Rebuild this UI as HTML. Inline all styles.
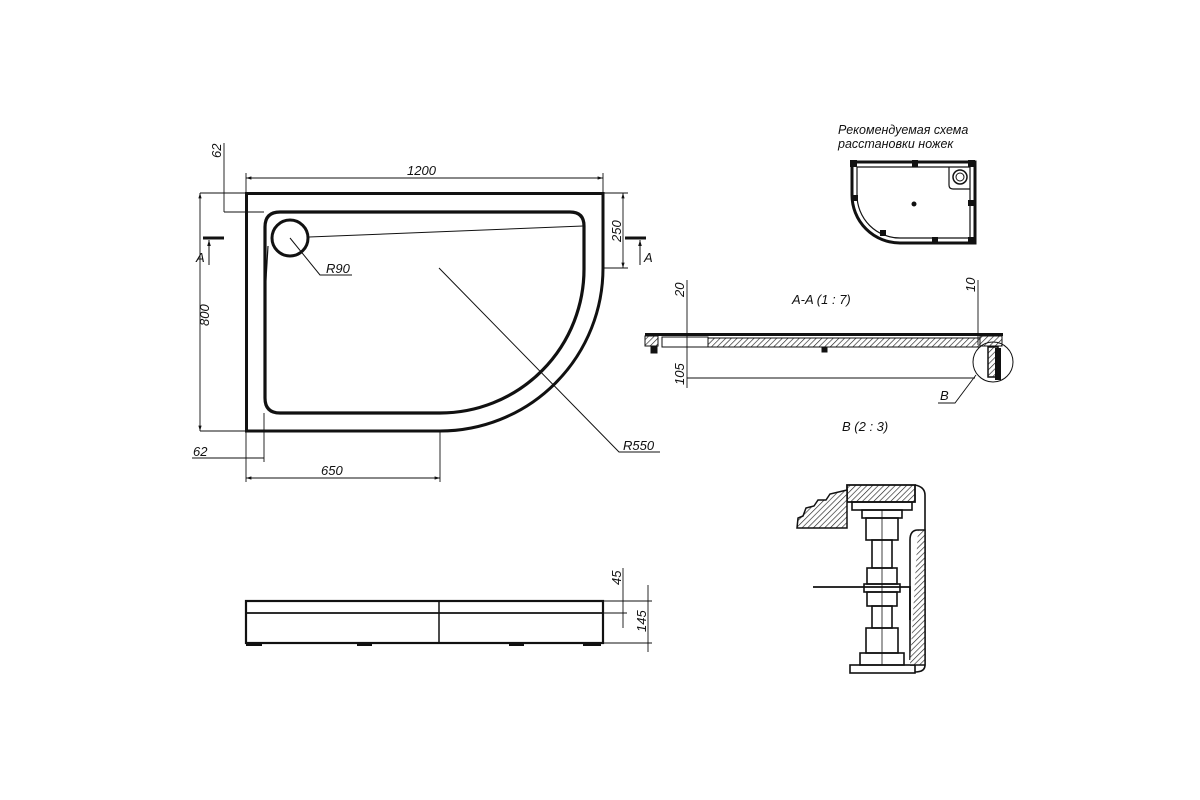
<!DOCTYPE html>
<html><head><meta charset="utf-8"><style>
html,body{margin:0;padding:0;background:#fff;}
svg{display:block;}
text{font-family:"Liberation Sans",sans-serif;font-style:italic;fill:#111;}
</style></head><body>
<svg width="1200" height="800" viewBox="0 0 1200 800" xmlns="http://www.w3.org/2000/svg">
<defs>
<pattern id="h" width="4" height="4" patternUnits="userSpaceOnUse" patternTransform="rotate(45)">
<rect width="4" height="4" fill="#fff"/><line x1="0" y1="0" x2="0" y2="4" stroke="#222" stroke-width="1.3"/></pattern>
<marker id="ar" viewBox="0 0 10 10" refX="10" refY="5" markerWidth="6" markerHeight="6" orient="auto-start-reverse"><path d="M0,2 L10,5 L0,8 z" fill="#111"/></marker>
</defs>
<g fill="none" stroke="#111">
<path d="M246.5,193.5 H603 V268 A163,163 0 0 1 440,431 H246.5 Z" stroke-width="3"/>
<path d="M280,212 H570 Q584,212 584,226 V268 A144,144 0 0 1 440,413 H280 Q265,413 265,398 V227 Q265,212 280,212 Z" stroke-width="3.2"/>
<circle cx="290" cy="238" r="18" stroke-width="3"/>
<line x1="309" y1="237" x2="583" y2="226" stroke-width="1"/>
<line x1="268" y1="246" x2="265" y2="296" stroke-width="1.2"/>
<polyline points="290,238 320,275 352,275" stroke-width="1"/>
<polyline points="439,268 619,452 660,452" stroke-width="1"/>
<g stroke-width="0.9">
<line x1="246" y1="178" x2="603" y2="178" marker-start="url(#ar)" marker-end="url(#ar)"/>
<line x1="246" y1="173" x2="246" y2="193"/><line x1="603" y1="173" x2="603" y2="193"/>
<line x1="224" y1="143" x2="224" y2="212"/>
<line x1="224" y1="212" x2="264" y2="212"/>
<line x1="200" y1="193" x2="246" y2="193"/>
<line x1="200" y1="193" x2="200" y2="431" marker-start="url(#ar)" marker-end="url(#ar)"/>
<line x1="200" y1="431" x2="246" y2="431"/>
<line x1="623" y1="193" x2="623" y2="268" marker-start="url(#ar)" marker-end="url(#ar)"/>
<line x1="603" y1="193" x2="628" y2="193"/><line x1="603" y1="268" x2="628" y2="268"/>
<line x1="192" y1="458" x2="264" y2="458"/>
<line x1="246" y1="431" x2="246" y2="482"/><line x1="264" y1="413" x2="264" y2="462"/>
<line x1="246" y1="478" x2="440" y2="478" marker-start="url(#ar)" marker-end="url(#ar)"/>
<line x1="440" y1="431" x2="440" y2="482"/>
</g>
<line x1="203" y1="238" x2="224" y2="238" stroke-width="3"/>
<line x1="209" y1="265" x2="209" y2="240" stroke-width="1" marker-end="url(#ar)"/>
<line x1="625" y1="238" x2="646" y2="238" stroke-width="3"/>
<line x1="640" y1="265" x2="640" y2="240" stroke-width="1" marker-end="url(#ar)"/>

<rect x="246" y="601" width="357" height="42" stroke-width="2.2"/>
<line x1="246" y1="613" x2="603" y2="613" stroke-width="1.8"/>
<line x1="439" y1="601" x2="439" y2="643" stroke-width="1.5"/>
<g stroke-width="0.9">
<line x1="603" y1="601" x2="652" y2="601"/><line x1="603" y1="613" x2="627" y2="613"/><line x1="603" y1="643" x2="652" y2="643"/>
<line x1="623" y1="568" x2="623" y2="628"/>
<line x1="648" y1="585" x2="648" y2="652"/>
</g>

<rect x="645" y="333" width="358" height="3" fill="#111" stroke="none"/>
<rect x="645" y="336" width="13" height="10" fill="url(#h)" stroke-width="1"/>
<rect x="662" y="337" width="46" height="10" stroke-width="1"/>
<rect x="708" y="338" width="272" height="9" fill="url(#h)" stroke-width="1"/>
<rect x="980" y="336" width="22" height="10" fill="url(#h)" stroke-width="1"/>
<rect x="651" y="347" width="6" height="6" fill="#111"/>
<rect x="822" y="347" width="5" height="5" fill="#111"/>
<rect x="988" y="347" width="10" height="30" fill="url(#h)" stroke-width="1.5"/>
<rect x="995" y="348" width="6" height="32" fill="#111" stroke="none"/>
<circle cx="993" cy="362" r="20" stroke-width="1"/>
<g stroke-width="0.9">
<line x1="687" y1="280" x2="687" y2="388"/>
<line x1="978" y1="280" x2="978" y2="345"/>
<line x1="687" y1="378" x2="975" y2="378"/>
<polyline points="976,375 955,403 938,403"/>
</g>

<path d="M847,485 H915 V502 H847 Z" fill="url(#h)" stroke-width="1.8"/>
<path d="M847,490 L830,494 L826,500 L818,500 L814,506 L806,508 L803,516 L798,518 L797,528 H847 Z" fill="url(#h)" stroke-width="1.5"/>
<g stroke-width="1.6">
<rect x="852" y="502" width="60" height="8"/>
<rect x="862" y="510" width="40" height="8"/>
<rect x="866" y="518" width="32" height="22"/>
<rect x="872" y="540" width="20" height="28"/>
<rect x="867" y="568" width="30" height="16"/>
<rect x="864" y="584" width="36" height="8"/>
<rect x="867" y="592" width="30" height="14"/>
<rect x="872" y="606" width="20" height="22"/>
<rect x="866" y="628" width="32" height="25"/>
<rect x="860" y="653" width="44" height="12"/>
<rect x="850" y="665" width="65" height="8"/>
</g>
<line x1="882" y1="510" x2="882" y2="665" stroke-width="0.8"/>
<path d="M915,485 Q925,487 925,495 V665 Q925,672 915,672 M918,530 Q910,530 910,540 V660" stroke-width="1.6"/>
<path d="M918,530 H925 V665 H910" fill="url(#h)" stroke-width="1.4"/>
<path d="M813,587 H910 V620" stroke-width="1.8"/>

<path d="M852,162 H975 V243 H900 A48,48 0 0 1 852,195 Z" stroke-width="3"/>
<path d="M857,167 H970 V238 H900 A43,43 0 0 1 857,195 Z" stroke-width="1.2"/>
<path d="M949,167 V185 Q949,189 953,189 H970" stroke-width="1.2"/>
<circle cx="960" cy="177" r="7" stroke-width="1.5"/><circle cx="960" cy="177" r="4" stroke-width="1"/>
</g>
<g fill="#111">
<circle cx="914" cy="204" r="2.5"/>
<rect x="850" y="160" width="7" height="7"/><rect x="912" y="160" width="6" height="7"/><rect x="968" y="160" width="7" height="7"/>
<rect x="968" y="200" width="7" height="6"/><rect x="968" y="237" width="7" height="7"/>
<rect x="932" y="237" width="6" height="7"/><rect x="880" y="230" width="6" height="6"/><rect x="852" y="195" width="6" height="6"/>
<rect x="246" y="643" width="16" height="3"/><rect x="357" y="643" width="15" height="3"/><rect x="509" y="643" width="15" height="3"/><rect x="583" y="643" width="18" height="3"/>
</g>
<g font-size="13">
<text x="407" y="175">1200</text>
<text x="326" y="273">R90</text>
<text x="623" y="450">R550</text>
<text x="193" y="456">62</text>
<text x="321" y="475">650</text>
<text x="196" y="262">A</text>
<text x="644" y="262">A</text>
<text transform="translate(221,158) rotate(-90)">62</text>
<text transform="translate(209,326) rotate(-90)">800</text>
<text transform="translate(621,242) rotate(-90)">250</text>
<text transform="translate(621,585) rotate(-90)">45</text>
<text transform="translate(646,632) rotate(-90)">145</text>
<text transform="translate(684,297) rotate(-90)">20</text>
<text transform="translate(684,385) rotate(-90)">105</text>
<text transform="translate(975,292) rotate(-90)">10</text>
<text x="792" y="304">A-A (1 : 7)</text>
<text x="842" y="431">B (2 : 3)</text>
<text x="940" y="400">B</text>
<text x="838" y="134" font-size="12.5">Рекомендуемая схема</text>
<text x="838" y="148" font-size="12.5">расстановки ножек</text>
</g>
</svg>
</body></html>
